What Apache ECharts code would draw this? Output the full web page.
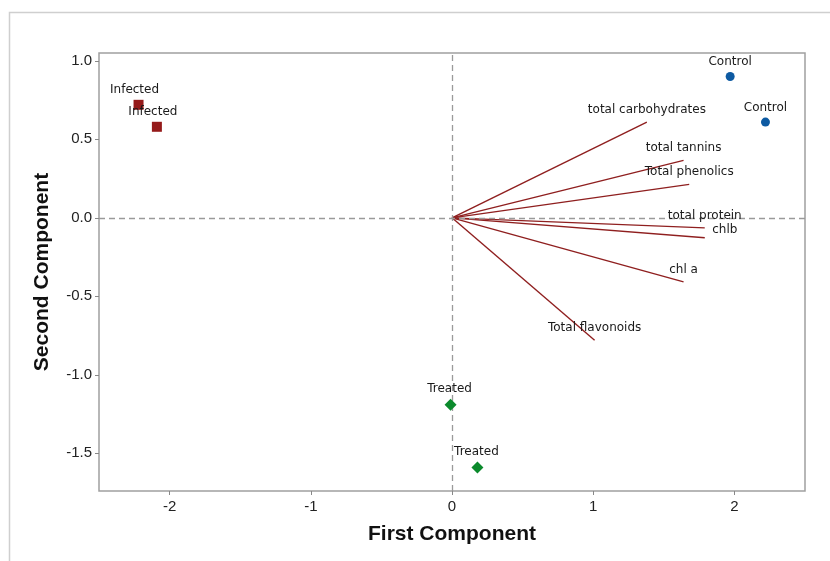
<!DOCTYPE html>
<html>
<head>
<meta charset="utf-8">
<script src="https://cdn.jsdelivr.net/npm/echarts@6/dist/echarts.min.js"></script>
<style>html,body{margin:0;padding:0;background:#fff;}#c{width:830px;height:561px;}</style>
</head>
<body>
<div id="c"></div>
<script>
// ---- data ----
var xTicks = [-2, -1, 0, 1, 2];
var yTicks = [-1.5, -1.0, -0.5, 0.0, 0.5, 1.0];

var infectedPts = [[-2.22, 0.72], [-2.09, 0.58]];
var controlPts  = [[1.97, 0.90], [2.22, 0.61]];
var treatedPts  = [[-0.01, -1.19], [0.18, -1.59]];

var vectorNames = ['total carbohydrates', 'total tannins', 'Total phenolics', 'total protein', 'chlb', 'chl a', 'Total flavonoids'];
var vectorX = [1.38, 1.64, 1.68, 1.79, 1.79, 1.64, 1.01];
var vectorY = [0.61, 0.366, 0.213, -0.064, -0.127, -0.408, -0.78];

// ---- styles ----
var red = '#951a1a', blue = '#0d5aa2', green = '#0b8a2c';
var labelFont = {fontFamily: 'DejaVu Sans', fontSize: 12, color: '#1a1a1a'};

var chart = echarts.init(document.getElementById('c'));

function ptSeries(name, pts, symbol, size, color, offset) {
  return {
    type: 'scatter', name: name, symbol: symbol, symbolSize: size,
    itemStyle: {color: color, opacity: 1},
    label: Object.assign({show: true, position: 'top', distance: 4, offset: offset || [0, 0],
      formatter: function () { return name; }}, labelFont),
    data: pts, z: 5
  };
}

var series = [];
vectorNames.forEach(function (n, i) {
  series.push({
    type: 'line', symbol: 'none', silent: true,
    lineStyle: {color: '#8f1f1f', width: 1.4},
    data: [[0, 0], [vectorX[i], vectorY[i]]], z: 3
  });
});
// vector labels
series.push({
  type: 'scatter', symbolSize: 1, itemStyle: {color: 'rgba(0,0,0,0)', opacity: 1}, silent: true,
  data: vectorNames.map(function (n, i) {
    var item = {value: [vectorX[i], vectorY[i]], name: n};
    if (n === 'chlb') {
      item.label = {position: 'right', distance: 7, offset: [0, -8]};
    }
    return item;
  }),
  label: Object.assign({show: true, position: 'top', distance: 6, formatter: '{b}'}, labelFont),
  z: 6
});
series.push(ptSeries('Infected', infectedPts, 'rect', 10, red, [-4, 0]));
series.push(ptSeries('Control', controlPts, 'circle', 9, blue, [0, 0]));
series.push(ptSeries('Treated', treatedPts, 'diamond', 12, green, [-1, 0]));
// zero reference lines
series.push({
  type: 'line', data: [], silent: true,
  markLine: {
    silent: true, symbol: ['none', 'none'], label: {show: false},
    lineStyle: {color: '#9a9a9a', type: [6, 4], width: 1.3},
    data: [{xAxis: 0}, {yAxis: 0}]
  }, z: 1
});

chart.setOption({
  animation: false,
  backgroundColor: '#fff',
  graphic: [{
    type: 'rect', shape: {x: 9.5, y: 12.5, width: 900, height: 600},
    style: {fill: 'none', stroke: '#cfcfcf', lineWidth: 1.5}, silent: true
  }],
  grid: {left: 99, top: 53, right: 25, bottom: 70, show: true, borderColor: '#a0a0a0', borderWidth: 1.5},
  xAxis: {
    type: 'value', min: -2.5, max: 2.5,
    name: 'First Component', nameLocation: 'middle', nameGap: 33,
    nameTextStyle: {fontFamily: 'Liberation Sans', fontWeight: 'bold', fontSize: 21, color: '#111'},
    axisLine: {show: false, onZero: false},
    axisTick: {show: true, inside: false, length: 4, lineStyle: {color: '#888'}, customValues: xTicks},
    axisLabel: {customValues: xTicks, fontFamily: 'Liberation Sans', fontSize: 15, color: '#222', margin: 8,
      formatter: function (v) { return String(v); }},
    splitLine: {show: false}
  },
  yAxis: {
    type: 'value', min: -1.74, max: 1.05,
    name: 'Second Component', nameLocation: 'middle', nameGap: 46,
    nameTextStyle: {fontFamily: 'Liberation Sans', fontWeight: 'bold', fontSize: 21, color: '#111'},
    axisLine: {show: false, onZero: false},
    axisTick: {show: true, inside: false, length: 4, lineStyle: {color: '#888'}, customValues: yTicks},
    axisLabel: {customValues: yTicks, fontFamily: 'Liberation Sans', fontSize: 15, color: '#222', margin: 7,
      formatter: function (v) { return v.toFixed(1); }},
    splitLine: {show: false}
  },
  series: series
});
</script>
</body>
</html>
